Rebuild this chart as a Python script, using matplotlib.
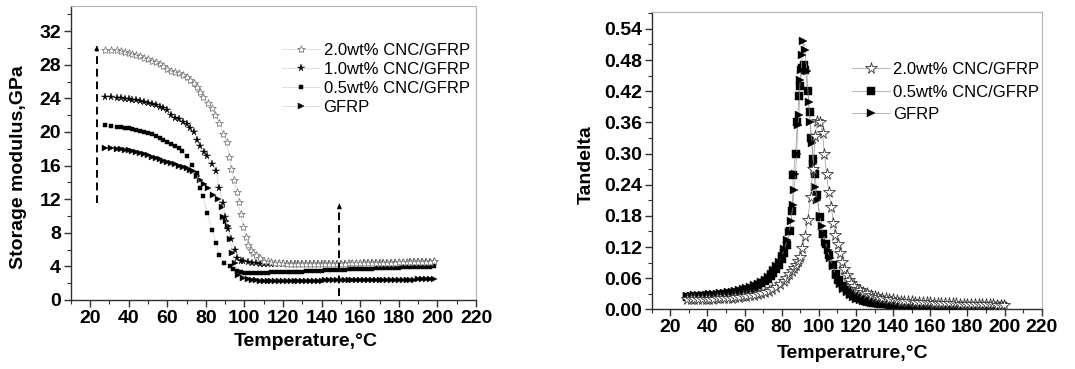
import matplotlib
matplotlib.use('Agg')
import matplotlib.pyplot as plt
from matplotlib.ticker import MultipleLocator, FormatStrFormatter

plt.rcParams['font.family'] = ['Liberation Sans', 'DejaVu Sans']

# ---------------- Left panel: storage modulus (GPa) ----------------
T_s20 = [28, 31, 34, 36, 38, 40, 42, 44, 46, 48, 50, 52, 54, 56, 58, 60, 62, 64, 66, 68, 70, 72, 74,
         75.3, 77, 78.7, 81, 83.2, 85, 87, 88.8, 90.8, 92.2, 93.2, 94.6, 96, 97, 98, 99.5, 100.8, 102,
         103.3, 104.6, 106, 108, 110, 112, 114, 116, 118, 120,
         122, 124, 126, 128, 130, 132, 134, 136, 138, 140, 142, 144, 146, 148, 150, 152, 154, 156, 158, 160,
         162, 164, 166, 168, 170, 172, 174, 176, 178, 180, 182, 184, 186, 188, 190, 192, 194, 196, 198]
E_s20 = [29.8, 29.7, 29.7, 29.6, 29.55, 29.45, 29.3, 29.15, 29.0, 28.85, 28.7, 28.5, 28.3, 28.1, 27.8, 27.5,
         27.3, 27.15, 27.0, 26.8, 26.5, 26.2, 25.8,
         25.4, 24.8, 24.2, 23.5, 22.8, 22.0, 21.1, 19.8, 18.8, 17.05, 15.6, 14.3, 12.9, 11.7, 10.2, 8.7, 7.5, 6.6,
         6.0, 5.6, 5.3, 5.0, 4.7, 4.6, 4.5, 4.45, 4.4, 4.35,
         4.3, 4.3, 4.3, 4.3, 4.3, 4.3, 4.3, 4.3, 4.3, 4.3, 4.3, 4.3, 4.32, 4.32, 4.33, 4.33, 4.35, 4.35, 4.36, 4.36,
         4.38, 4.38, 4.4, 4.4, 4.42, 4.42, 4.44, 4.45, 4.46, 4.47, 4.48, 4.49, 4.5, 4.5, 4.52, 4.53, 4.55, 4.57, 4.6]

T_s10 = [28, 31, 34, 36, 38, 40, 42, 44, 46, 48, 50, 52, 54, 56, 58, 60, 62, 64, 66, 68, 70, 72, 74,
         75.3, 77, 79, 80.8, 83, 85.3, 87, 88.8, 90.1, 91.5, 93.2, 95.1, 96.4, 98, 99.5,
         102, 104, 106, 108, 110, 112, 114, 116, 118, 120, 122, 124, 126, 128, 130, 132, 134, 136, 138, 140,
         142, 144, 146, 148, 150, 152, 154, 156, 158, 160, 162, 164, 166, 168, 170,
         172, 174, 176, 178, 180, 182, 184, 186, 188, 190, 192, 194, 196, 198]
E_s10 = [24.2, 24.1, 24.0, 24.0, 23.95, 23.9, 23.85, 23.75, 23.65, 23.55, 23.45, 23.3, 23.15, 23.0, 22.8, 22.6,
         22.0, 21.7, 21.5, 21.2, 20.9, 20.5, 20.0,
         19.1, 18.3, 17.6, 17.1, 16.2, 15.3, 13.3, 11.6, 9.9, 8.4, 7.25, 6.0, 5.0, 4.7, 4.6,
         4.5, 4.4, 4.35, 4.3, 4.28, 4.26, 4.25, 4.25, 4.25, 4.25, 4.25, 4.25, 4.25, 4.25, 4.25, 4.25, 4.25, 4.26,
         4.26, 4.27, 4.27, 4.28, 4.28, 4.29, 4.3, 4.3, 4.31, 4.32, 4.33, 4.34, 4.35, 4.36, 4.37, 4.38, 4.39,
         4.4, 4.41, 4.42, 4.43, 4.44, 4.45, 4.46, 4.47, 4.48, 4.49, 4.5, 4.51, 4.52, 4.53]

T_s05 = [28, 31, 34, 36, 38, 40, 42, 44, 46, 48, 50, 52, 54, 56, 58, 60, 62, 64, 66,
         67.5, 70.1, 72.7, 75.3, 77, 78.4, 80.8, 83.2, 85.3, 87, 89.4, 92.6, 94.3, 96, 98,
         100, 102, 104, 106, 108, 110, 112, 114, 116, 118, 120, 122, 124, 126, 128, 130, 132, 134, 136, 138,
         140, 142, 144, 146, 148, 150, 152, 154, 156, 158, 160, 162, 164, 166, 168, 170, 172, 174, 176, 178,
         180, 182, 184, 186, 188, 190, 192, 194, 196, 198]
E_s05 = [20.8, 20.65, 20.6, 20.55, 20.5, 20.45, 20.35, 20.25, 20.15, 20.0, 19.85, 19.7, 19.5, 19.3, 19.1,
         18.85, 18.6, 18.35, 18.05,
         17.7, 17.1, 16.1, 15.1, 13.3, 12.4, 10.4, 8.3, 6.8, 5.3, 4.4, 4.0, 3.7, 3.4, 3.3,
         3.25, 3.24, 3.24, 3.25, 3.25, 3.26, 3.27, 3.28, 3.28, 3.29, 3.3, 3.31, 3.33, 3.35, 3.37, 3.39, 3.41,
         3.43, 3.45, 3.47, 3.5, 3.52, 3.54, 3.56, 3.58, 3.6, 3.62, 3.64, 3.66, 3.67, 3.69, 3.71, 3.72, 3.74,
         3.76, 3.77, 3.79, 3.8, 3.82, 3.84, 3.85, 3.87, 3.88, 3.9, 3.92, 3.93, 3.95, 3.97, 3.98, 4.0]

T_g = [28, 31, 34, 36, 38, 40, 42, 44, 46, 48, 50, 52, 54, 56, 58, 60, 62, 64, 66, 68, 70, 72,
       73.6, 75.3, 77, 79, 81.3, 83.9, 86.5, 88.2, 89, 90.3, 91.7, 92.6, 93.8, 95.1, 96.9, 99.5,
       102, 104, 106, 108, 110, 112, 114, 116, 118, 120, 122, 124, 126, 128, 130, 132, 134, 136, 138, 140,
       142, 144, 146, 148, 150, 152, 154, 156, 158, 160, 162, 164, 166, 168, 170, 172, 174, 176, 178, 180,
       182, 184, 186, 188, 190, 192, 194, 196, 198]
E_g = [18.1, 18.05, 18.0, 17.95, 17.9, 17.8, 17.7, 17.6, 17.5, 17.35, 17.2, 17.05, 16.9, 16.75, 16.6, 16.45,
       16.3, 16.15, 16.0, 15.85, 15.7, 15.5,
       15.3, 14.8, 14.3, 13.8, 13.3, 12.5, 12.0, 11.1, 9.9, 9.4, 8.8, 7.3, 5.6, 4.4, 3.0, 2.6,
       2.45, 2.38, 2.33, 2.3, 2.3, 2.3, 2.3, 2.3, 2.3, 2.3, 2.3, 2.3, 2.3, 2.31, 2.31, 2.31, 2.32, 2.32, 2.32,
       2.32, 2.33, 2.33, 2.33, 2.33, 2.34, 2.34, 2.35, 2.35, 2.36, 2.36, 2.37, 2.37, 2.38, 2.38, 2.39, 2.39,
       2.4, 2.4, 2.41, 2.41, 2.42, 2.42, 2.43, 2.43, 2.44, 2.45, 2.45, 2.46, 2.47]

# dashed arrows on left panel
arrow_x = [23.5, 149.2]
arrow_y0 = [11.5, 0.5]
arrow_y1 = [30.6, 11.8]

# ---------------- Right panel: tan delta ----------------
T_t20 = [28.8, 31, 33, 35, 37, 39, 41, 43, 45, 47, 49, 51, 53, 55, 57, 59, 61, 63, 65, 67, 69, 71, 73, 75,
         77, 79, 81, 82.5, 84, 85.3, 86.5, 87.7, 88.9, 89.9, 91.1, 92.6, 94, 95.6, 96.7, 98.1, 98.9, 100.6,
         102, 103, 104.2, 105.3, 106.7, 107.8, 108.9, 110.2, 111.4, 112.5, 113.7, 115, 116.3, 117.5, 119,
         120.5, 122, 124, 126, 128, 130, 132, 134, 136, 138, 140, 142, 144, 146, 148, 150, 152, 154, 156,
         158, 160, 162, 164, 166, 168, 170, 172, 174, 176, 178, 180, 182, 184, 186, 188, 190, 192, 194, 196,
         198, 199.5]
D_t20 = [0.019, 0.019, 0.019, 0.0195, 0.0195, 0.02, 0.02, 0.0205, 0.021, 0.021, 0.0215, 0.022, 0.0225,
         0.023, 0.024, 0.025, 0.026, 0.027, 0.028, 0.029, 0.031, 0.033, 0.036, 0.039,
         0.043, 0.049, 0.055, 0.061, 0.068, 0.074, 0.080, 0.086, 0.094, 0.101, 0.119, 0.141, 0.172, 0.216,
         0.27, 0.333, 0.363, 0.36,
         0.339, 0.299, 0.261, 0.225, 0.198, 0.167, 0.143, 0.126, 0.108, 0.092, 0.077, 0.066, 0.057, 0.05,
         0.045, 0.040, 0.037, 0.034, 0.031, 0.028, 0.026, 0.024, 0.022, 0.021, 0.02, 0.019, 0.018, 0.017,
         0.017, 0.016, 0.016, 0.015, 0.015, 0.014, 0.014, 0.014, 0.013, 0.013, 0.013, 0.012, 0.012, 0.012,
         0.012, 0.011, 0.011, 0.011, 0.011, 0.01, 0.01, 0.01, 0.01, 0.0095, 0.0095, 0.009, 0.009, 0.008]

T_t05 = [28.8, 31, 33, 35, 37, 39, 41, 43, 45, 47, 49, 51, 53, 55, 57, 59, 61, 63, 65, 67, 69,
         71, 72.5, 74, 75.5, 77, 78.5, 80, 81.5, 83, 84.5, 85.5, 86.3, 87.5, 88.5, 89.2, 89.9, 90.8, 91.8,
         92.8, 94, 95, 96, 97, 98, 99, 100.6, 102.4, 104, 105.5, 107.8, 109.5, 111, 113, 115, 117, 119,
         121, 123, 125, 127, 129, 131, 133, 135, 137, 139, 141, 143, 145, 147, 149, 151, 153, 155, 157,
         159, 161, 163, 165, 167, 169, 171, 173, 175, 177, 179, 181, 183, 185, 187, 189, 191, 193, 195,
         197, 199]
D_t05 = [0.023, 0.023, 0.024, 0.024, 0.025, 0.025, 0.026, 0.026, 0.027, 0.028, 0.029, 0.030, 0.031, 0.032,
         0.034, 0.036, 0.038, 0.040, 0.043, 0.046, 0.050,
         0.054, 0.058, 0.064, 0.070, 0.078, 0.086, 0.096, 0.108, 0.124, 0.15, 0.19, 0.259, 0.30, 0.36,
         0.41, 0.43, 0.464, 0.47, 0.46, 0.42, 0.38, 0.33, 0.29, 0.26, 0.22, 0.178, 0.146, 0.125, 0.105,
         0.085, 0.068, 0.056, 0.045, 0.037, 0.031, 0.026,
         0.022, 0.019, 0.017, 0.015, 0.013, 0.012, 0.011, 0.010, 0.0095, 0.009, 0.0085, 0.008, 0.0078,
         0.0075, 0.0073, 0.0071, 0.007, 0.0069, 0.0068, 0.0067, 0.0066, 0.0065, 0.0065, 0.0064, 0.0064,
         0.0063, 0.0063, 0.0062, 0.0062, 0.0062, 0.0061, 0.0061, 0.0061, 0.006, 0.006, 0.006, 0.006,
         0.006, 0.006, 0.006]

T_tg = [28.8, 31, 33, 35, 37, 39, 41, 43, 45, 47, 49, 51, 53, 55, 57, 59, 61, 63, 65, 67, 69,
        71, 72.5, 74, 75.5, 77, 78.5, 80, 81.5, 83, 84, 85, 86, 86.8, 87.4, 88.1, 88.6, 89.3, 89.9, 90.5,
        91, 91.7, 92.5, 93.5, 94.5, 95.3, 96.2, 97, 98, 99.2, 100.5, 101.5, 102.4, 103.5, 104.7, 106,
        107.5, 109, 110.3, 111.4, 113, 115, 116.8, 118.5,
        120, 122, 124, 126, 128, 130, 132, 134, 136, 138, 140, 142, 144, 146, 148, 150, 152, 154, 156,
        158, 160, 162, 164, 166, 168, 170, 172, 174, 176, 178, 180, 182, 184, 186, 188, 190, 192, 194,
        196, 198]
D_tg = [0.026, 0.026, 0.027, 0.027, 0.028, 0.028, 0.029, 0.030, 0.030, 0.031, 0.032, 0.033, 0.034, 0.035,
        0.037, 0.039, 0.041, 0.043, 0.046, 0.049, 0.053,
        0.057, 0.062, 0.068, 0.075, 0.083, 0.092, 0.103, 0.116, 0.133, 0.148, 0.17, 0.20, 0.23, 0.26,
        0.30, 0.355, 0.374, 0.442, 0.46, 0.49, 0.516, 0.50, 0.458, 0.40, 0.36, 0.32, 0.28, 0.236, 0.21,
        0.18, 0.16, 0.146, 0.13, 0.115, 0.098, 0.083, 0.066, 0.056, 0.048, 0.04, 0.033, 0.027, 0.023,
        0.02, 0.018, 0.016, 0.014, 0.013, 0.012, 0.011, 0.010, 0.0095, 0.009, 0.0085, 0.008, 0.0075,
        0.007, 0.007, 0.0065, 0.0063, 0.0061, 0.006, 0.0058, 0.0057, 0.0056, 0.0055, 0.0055, 0.0054,
        0.0054, 0.0053, 0.0053, 0.0052, 0.0052, 0.0052, 0.0051, 0.0051, 0.0051, 0.005, 0.005, 0.005,
        0.005, 0.005, 0.005]

fig = plt.figure(figsize=(10.75, 3.69), dpi=100)
axL = fig.add_axes([0.0658, 0.187, 0.377, 0.797])
axR = fig.add_axes([0.6062, 0.1616, 0.3628, 0.8067])

line_left = dict(color='#c8c8c8', lw=0.4)
line_right = dict(color='#9a9a9a', lw=0.5)

# left panel series
axL.plot(T_g, E_g, marker='>', ms=4.2, mfc='black', mec='black', mew=0.3, label='GFRP', **line_left)
axL.plot(T_s05, E_s05, marker='s', ms=3.5, mfc='black', mec='black', mew=0.3, label='0.5wt% CNC/GFRP', **line_left)
axL.plot(T_s10, E_s10, marker='*', ms=5.4, mfc='black', mec='black', mew=0.3, label='1.0wt% CNC/GFRP', **line_left)
axL.plot(T_s20, E_s20, marker='*', ms=6.0, mfc='white', mec='#808080', mew=0.6, label='2.0wt% CNC/GFRP', **line_left)

for xa, y0, y1 in zip(arrow_x, arrow_y0, arrow_y1):
    axL.plot([xa, xa], [y0, y1 - 0.6], color='black', lw=1.4, ls=(0, (4, 2.5)))
    axL.annotate('', xy=(xa, y1), xytext=(xa, y1 - 0.9),
                 arrowprops=dict(arrowstyle='-|>', color='black', lw=1.0, mutation_scale=6))

axL.set_xlim(10, 220)
axL.set_ylim(0, 35)
axL.set_xticks([20, 40, 60, 80, 100, 120, 140, 160, 180, 200, 220])
axL.xaxis.set_minor_locator(MultipleLocator(10))
axL.yaxis.set_major_locator(MultipleLocator(4))
axL.yaxis.set_minor_locator(MultipleLocator(2))
axL.set_ylabel('Storage modulus,GPa', fontsize=14, fontweight='bold')
axL.set_xlabel('Temperature,°C', fontsize=14, fontweight='bold')
axL.yaxis.set_label_coords(-0.108, 0.452)
axL.xaxis.set_label_coords(0.58, -0.112)

hL, lL = axL.get_legend_handles_labels()
legL = axL.legend(hL[::-1], lL[::-1], loc='upper left', bbox_to_anchor=(0.521, 0.874), frameon=False,
                  fontsize=12, handlelength=2.3, handletextpad=0.2, labelspacing=0.24, borderaxespad=0,
                  borderpad=0)

# right panel series
axR.plot(T_t05, D_t05, marker='s', ms=5.2, mfc='black', mec='black', mew=0.3, label='0.5wt% CNC/GFRP', zorder=2, **line_right)
axR.plot(T_tg, D_tg, marker='>', ms=6.0, mfc='black', mec='black', mew=0.3, label='GFRP', zorder=3, **line_right)
axR.plot(T_t20, D_t20, marker='*', ms=8.5, mfc='white', mec='#333333', mew=0.6, label='2.0wt% CNC/GFRP', zorder=4, **line_right)

axR.set_xlim(10, 220)
axR.set_ylim(0, 0.573)
axR.set_xticks([20, 40, 60, 80, 100, 120, 140, 160, 180, 200, 220])
axR.xaxis.set_minor_locator(MultipleLocator(10))
axR.yaxis.set_major_locator(MultipleLocator(0.06))
axR.yaxis.set_minor_locator(MultipleLocator(0.03))
axR.yaxis.set_major_formatter(FormatStrFormatter('%.2f'))
axR.set_ylabel('Tandelta', fontsize=14, fontweight='bold')
axR.set_xlabel('Temperatrure,°C', fontsize=14, fontweight='bold')
axR.yaxis.set_label_coords(-0.145, 0.485)
axR.xaxis.set_label_coords(0.516, -0.12)

hR, lR = axR.get_legend_handles_labels()
order = [2, 0, 1]
legR = axR.legend([hR[i] for i in order], [lR[i] for i in order], loc='upper left',
                  bbox_to_anchor=(0.513, 0.83), frameon=False, fontsize=12, handlelength=2.3,
                  handletextpad=0.2, labelspacing=0.45, borderaxespad=0, borderpad=0)

for ax in (axL, axR):
    for s in ('top', 'right'):
        ax.spines[s].set_color('#b5b5b5')
        ax.spines[s].set_linewidth(0.8)
    for s in ('left', 'bottom'):
        ax.spines[s].set_color('#303030')
        ax.spines[s].set_linewidth(1.0)
    ax.tick_params(which='major', direction='out', length=5, width=1.0, color='#303030',
                   labelsize=14, pad=2)
    ax.tick_params(which='minor', direction='out', length=3, width=0.8, color='#303030')
    ax.tick_params(top=False, right=False, which='both')
    for lab in ax.get_xticklabels() + ax.get_yticklabels():
        lab.set_fontweight('bold')

fig.savefig('out.png', dpi=100)
